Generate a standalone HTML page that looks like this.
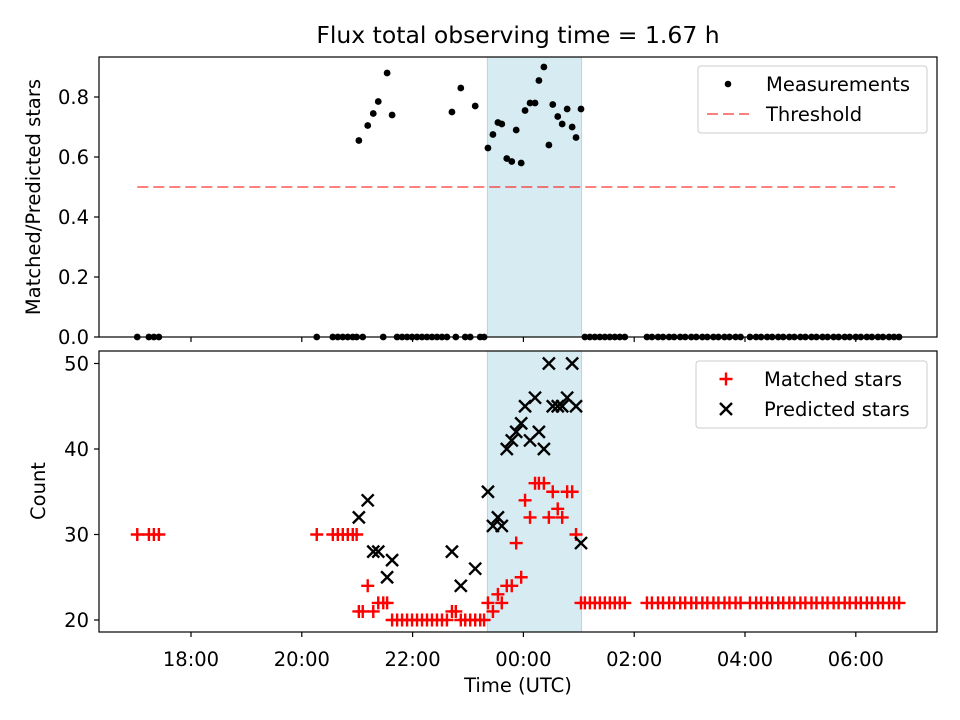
<!DOCTYPE html>
<html><head><meta charset="utf-8">
<style>
html,body{margin:0;padding:0;background:#fff;}
svg{display:block;font-family:"DejaVu Sans","Liberation Sans",sans-serif;}
</style></head>
<body>
<svg id="chart" width="960" height="720" viewBox="0 0 960 720" xmlns="http://www.w3.org/2000/svg">
<text x="518" y="43" font-size="23.5" text-anchor="middle">Flux total observing time = 1.67 h</text>
<g id="topPanel"></g>
<g id="botPanel"></g>
<text transform="translate(40,197) rotate(-90)" font-size="19.5" text-anchor="middle">Matched/Predicted stars</text>
<text transform="translate(45,491) rotate(-90)" font-size="19.5" text-anchor="middle">Count</text>
<text x="518" y="692" font-size="19.5" text-anchor="middle">Time (UTC)</text>
<g>
<rect x="698" y="66" width="229" height="67" rx="3" fill="#fff" fill-opacity="0.8" stroke="#ccc"/>
<circle cx="728" cy="84" r="3.3" fill="#000"/>
<text x="766" y="91" font-size="19.5">Measurements</text>
<line x1="707" y1="114" x2="749" y2="114" stroke="#ff0000" stroke-opacity="0.5" stroke-width="2" stroke-dasharray="11,5"/>
<text x="766" y="121" font-size="19.5">Threshold</text>
</g>
<g>
<rect x="696" y="361" width="231" height="67" rx="3" fill="#fff" fill-opacity="0.8" stroke="#ccc"/>
<path d="M726 372.5v13M719.5 379h13" stroke="#f00" stroke-width="2.4"/>
<path d="M720 403l12 12M732 403l-12 12" stroke="#000" stroke-width="2.4"/>
<text x="764" y="386" font-size="19.5">Matched stars</text>
<text x="764" y="416" font-size="19.5">Predicted stars</text>
</g>
</svg>
<script>
// hours (after 24 = next day)
const detTimes=[21.03,21.19,21.29,21.38,21.54,21.63,22.71,22.87,23.13,23.36,23.45,23.54,23.61,23.70,23.79,23.87,23.96,24.03,24.12,24.21,24.28,24.37,24.46,24.53,24.62,24.70,24.79,24.88,24.95,25.04];
const detPredicted=[32,34,28,28,25,27,28,24,26,35,31,32,31,40,41,42,43,45,41,46,42,40,50,45,45,45,46,50,45,29];
const detMatched=[21,24,21,22,22,20,21,20,20,22,21,23,22,24,24,29,25,34,32,36,36,36,32,35,33,32,35,35,30,22];
const detRatio=[0.655,0.705,0.745,0.785,0.88,0.74,0.75,0.83,0.77,0.63,0.675,0.715,0.71,0.595,0.585,0.69,0.58,0.755,0.78,0.78,0.855,0.90,0.64,0.775,0.735,0.71,0.76,0.70,0.665,0.76];
const undetTimes=[17.03,17.24,17.33,17.42,20.27,20.56,20.65,20.74,20.83,20.92,20.99,21.10,21.47,21.72,21.81,21.90,21.99,22.08,22.17,22.26,22.35,22.44,22.53,22.62,22.78,22.95,23.04,23.22,23.29,
25.11,25.20,25.29,25.38,25.47,25.56,25.65,25.74,25.83,
26.23,26.32,26.43,26.52,26.63,26.72,26.83,26.92,27.03,27.12,27.23,27.32,27.43,27.52,27.63,27.72,27.83,27.92,
28.09,28.20,28.29,28.40,28.49,28.60,28.69,28.80,28.89,29.00,29.09,29.20,29.29,29.40,29.49,29.60,29.69,29.80,29.89,30.00,30.09,30.20,30.29,30.40,30.49,30.60,30.69,30.78];
const undetMatched=[30,30,30,30,30,30,30,30,30,30,30,21,22,20,20,20,20,20,20,20,20,20,20,20,21,20,20,20,20,
22,22,22,22,22,22,22,22,22,
22,22,22,22,22,22,22,22,22,22,22,22,22,22,22,22,22,22,
22,22,22,22,22,22,22,22,22,22,22,22,22,22,22,22,22,22,22,22,22,22,22,22,22,22,22,22];
const thresholdValue=0.5;
const thresholdRange=[17.03,30.71];
const spanRange=[23.35,25.05];
const xTickHours=[18,20,22,24,26,28,30];
const xTickLabels=["18:00","20:00","22:00","00:00","02:00","04:00","06:00"];
const topTicks=[0,0.2,0.4,0.6,0.8];
const topTickLabels=["0.0","0.2","0.4","0.6","0.8"];
const botTicks=[20,30,40,50];

const NS="http://www.w3.org/2000/svg";
const X0=99,X1=937;
const xs=h=>191+(h-18)*55.4;
const TY0=57,TY1=337, ty=v=>337-v*300;
const BY0=351,BY1=632, by=c=>620-(c-20)*8.55;
function mk(p,tag,at){const e=document.createElementNS(NS,tag);for(const k in at)e.setAttribute(k,at[k]);p.appendChild(e);return e;}
const topG=document.getElementById('topPanel'),botG=document.getElementById('botPanel');

function frame(g,y0,y1,labels){
  const s=mk(g,'rect',{x:xs(spanRange[0]),y:y0,width:xs(spanRange[1])-xs(spanRange[0]),height:y1-y0,fill:'#add8e6','fill-opacity':0.5,stroke:'#add8e6'});
  
  
  xTickHours.forEach((h,i)=>{
    mk(g,'line',{x1:xs(h),x2:xs(h),y1:y1,y2:y1+5,stroke:'#000','stroke-width':1.2});
    if(labels){const t=mk(g,'text',{x:xs(h),y:y1+34,'font-size':19.5,'text-anchor':'middle'});t.textContent=xTickLabels[i];
      
      }
  });
}
frame(topG,TY0,TY1,false);
frame(botG,BY0,BY1,true);

// top panel
const th=mk(topG,'line',{x1:xs(thresholdRange[0]),x2:xs(thresholdRange[1]),y1:ty(thresholdValue),y2:ty(thresholdValue),stroke:'#ff0000','stroke-opacity':0.5,'stroke-width':2,'stroke-dasharray':'11,5'});


undetTimes.forEach(h=>{const c=mk(topG,'circle',{cx:xs(h),cy:ty(0),r:3.4,fill:'#000'});
  
  });
detTimes.forEach((h,i)=>{const c=mk(topG,'circle',{cx:xs(h),cy:ty(detRatio[i]),r:3.4,fill:'#000'});
  
  });
topTicks.forEach((v,i)=>{mk(topG,'line',{x1:X0-5,x2:X0,y1:ty(v),y2:ty(v),stroke:'#000','stroke-width':1.2});
  const t=mk(topG,'text',{x:X0-10,y:ty(v)+7,'font-size':19.5,'text-anchor':'end'});t.textContent=topTickLabels[i];
  
  });
mk(topG,'rect',{x:X0,y:TY0,width:X1-X0,height:TY1-TY0,fill:'none',stroke:'#000','stroke-width':1.2});

// bottom panel
function plus(h,c){const x=xs(h),y=by(c);const p=mk(botG,'path',{d:`M${x} ${y-6.5}v13M${x-6.5} ${y}h13`,stroke:'#f00','stroke-width':2.4});
  
  }
undetTimes.forEach((h,i)=>plus(h,undetMatched[i]));
detTimes.forEach((h,i)=>plus(h,detMatched[i]));
detTimes.forEach((h,i)=>{const x=xs(h),y=by(detPredicted[i]);
  const p=mk(botG,'path',{d:`M${x-6} ${y-6}l12 12M${x+6} ${y-6}l-12 12`,stroke:'#000','stroke-width':2.4});
  
  });
botTicks.forEach(v=>{mk(botG,'line',{x1:X0-5,x2:X0,y1:by(v),y2:by(v),stroke:'#000','stroke-width':1.2});
  const t=mk(botG,'text',{x:X0-10,y:by(v)+7,'font-size':19.5,'text-anchor':'end'});t.textContent=String(v);
  
  });
mk(botG,'rect',{x:X0,y:BY0,width:X1-X0,height:BY1-BY0,fill:'none',stroke:'#000','stroke-width':1.2});
</script>
</body></html>
